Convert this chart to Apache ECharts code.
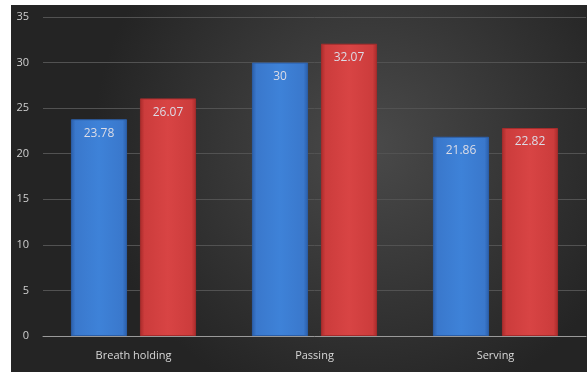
<!DOCTYPE html>
<html><head><meta charset="utf-8">
<script src="https://cdn.jsdelivr.net/npm/echarts@6/dist/echarts.min.js"></script>
<style>html,body{margin:0;padding:0;background:#fff}#c{width:587px;height:372px}</style>
</head><body><div id="c"></div>
<script>
const categories = ['Breath holding', 'Passing', 'Serving'];
const seriesA = [23.78, 30, 21.86];
const seriesB = [26.07, 32.07, 22.82];
const yTicks = [0, 5, 10, 15, 20, 25, 30, 35];

const chart = echarts.init(document.getElementById('c'), null, {renderer: 'canvas'});
function barGrad(light, mid, dark) {
  return new echarts.graphic.LinearGradient(0, 0, 1, 0, [
    {offset: 0, color: dark}, {offset: 0.08, color: mid}, {offset: 0.5, color: light},
    {offset: 0.92, color: mid}, {offset: 1, color: dark}
  ]);
}
const labelCfg = {show: true, position: 'insideTop', distance: 8, color: '#dcdce6', fontSize: 12, fontFamily: 'Open Sans, DejaVu Sans, sans-serif'};
chart.setOption({
  backgroundColor: '#ffffff',
  animation: false,
  graphic: [{
    type: 'rect', z: -10, silent: true,
    shape: {x: 11, y: 5, width: 576, height: 367},
    style: {fill: new echarts.graphic.RadialGradient(0.62, 0.38, 0.75, [
      {offset: 0, color: '#4a4a4a'}, {offset: 1, color: '#242424'}
    ])}
  }],
  grid: {left: 43, right: 1, top: 17, bottom: 36},
  xAxis: {
    type: 'category', data: categories,
    axisLine: {lineStyle: {color: '#9a9a9a', width: 1}},
    axisTick: {show: false},
    axisLabel: {color: '#d8d8d8', fontSize: 11, margin: 14, fontFamily: 'Open Sans, DejaVu Sans, sans-serif'}
  },
  yAxis: {
    type: 'value', min: yTicks[0], max: yTicks[yTicks.length - 1], interval: 5,
    axisLine: {show: false}, axisTick: {show: false},
    splitLine: {lineStyle: {color: '#525252', width: 1}},
    axisLabel: {color: '#cfcfcf', fontSize: 11, margin: 14, fontFamily: 'Open Sans, DejaVu Sans, sans-serif'}
  },
  series: [
    {type: 'bar', data: seriesA, barWidth: '31%', barGap: '23%',
     itemStyle: {color: barGrad('#3e82d8', '#3a78cc', '#2a5da8'), borderColor: '#2c5fa8', borderWidth: 1},
     label: labelCfg},
    {type: 'bar', data: seriesB, barWidth: '31%', barGap: '23%',
     itemStyle: {color: barGrad('#d84444', '#cc3c3c', '#a82a2a'), borderColor: '#a52c2c', borderWidth: 1},
     label: labelCfg}
  ]
});
</script></body></html>
